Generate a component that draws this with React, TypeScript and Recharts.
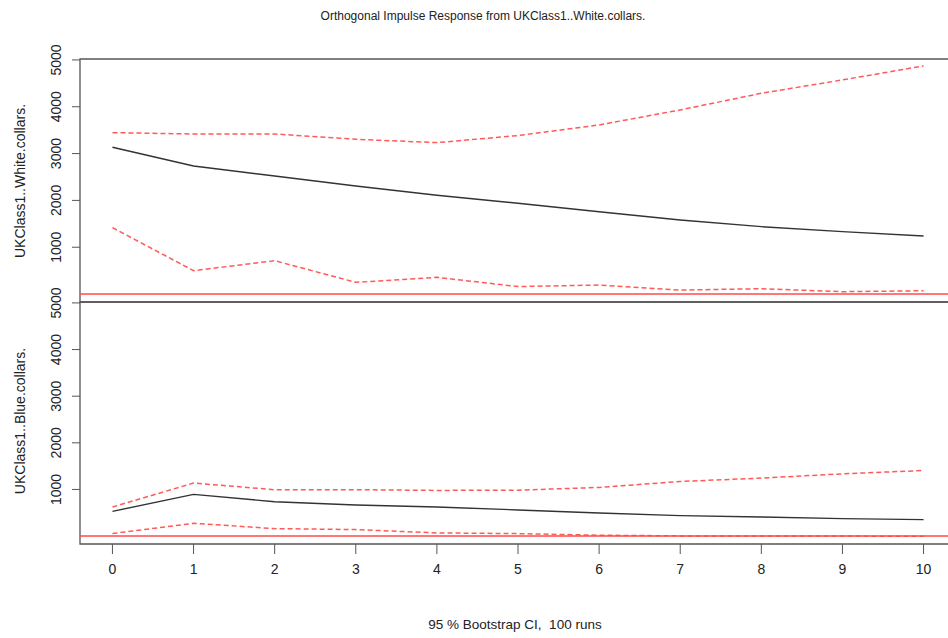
import { Line, LineChart, ReferenceArea, ReferenceLine, XAxis, YAxis } from "recharts";

const steps = [0, 1, 2, 3, 4, 5, 6, 7, 8, 9, 10];
const whiteIrf = [3135, 2735, 2521, 2308, 2109, 1938, 1759, 1581, 1439, 1332, 1239];
const whiteUpper = [3447, 3419, 3419, 3305, 3234, 3385, 3611, 3932, 4288, 4573, 4872];
const whiteLower = [1418, 499, 712, 250, 357, 160, 192, 85, 114, 50, 71];
const blueIrf = [530, 894, 737, 666, 623, 560, 495, 438, 410, 374, 353];
const blueUpper = [623, 1137, 994, 994, 979, 985, 1043, 1171, 1243, 1335, 1406];
const blueLower = [53, 274, 160, 139, 68, 53, 18, 4, 2, 0, -4];

const yTicks = [1000, 2000, 3000, 4000, 5000];
const yDomain = [-170, 5020];
const xDomain = [-0.4, 10.4];

const whiteData = steps.map((step, i) => ({ step, irf: whiteIrf[i], upper: whiteUpper[i], lower: whiteLower[i] }));
const blueData = steps.map((step, i) => ({ step, irf: blueIrf[i], upper: blueUpper[i], lower: blueLower[i] }));

const font = "'Liberation Sans', Arial, sans-serif";
const ink = "#222";
const boxColor = "#555";
const ciColor = "#ff5a5a";
const zeroColor = "#ff4a4a";

function RotatedTick(props: any) {
  const { x, y, payload } = props;
  return (
    <text
      x={x}
      y={y}
      transform={`rotate(-90 ${x} ${y})`}
      textAnchor="middle"
      fontFamily={font}
      fontSize={14}
      fill={ink}
    >
      {payload.value}
    </text>
  );
}

function Panel({ data, margin, showX }: { data: typeof whiteData; margin: any; showX: boolean }) {
  return (
    <LineChart width={960} height={638} data={data} margin={margin}>
      <XAxis
        dataKey="step"
        type="number"
        domain={xDomain}
        allowDataOverflow
        ticks={steps}
        hide={!showX}
        height={40}
        axisLine={false}
        tickLine={{ stroke: boxColor }}
        tickSize={10}
        tickMargin={10}
        tick={{ fontFamily: font, fontSize: 14, fill: ink }}
      />
      <YAxis
        type="number"
        domain={yDomain}
        allowDataOverflow
        ticks={yTicks}
        width={80}
        axisLine={false}
        tickLine={{ stroke: boxColor }}
        tickSize={8}
        tickMargin={11}
        tick={<RotatedTick />}
      />
      <ReferenceArea x1={xDomain[0]} x2={xDomain[1]} y1={yDomain[0]} y2={yDomain[1]} fill="none" stroke={boxColor} strokeWidth={1.3} />
      <Line dataKey="irf" stroke="#333" strokeWidth={1.4} dot={false} isAnimationActive={false} />
      <Line dataKey="upper" stroke={ciColor} strokeWidth={1.5} strokeDasharray="5 3" dot={false} isAnimationActive={false} />
      <Line dataKey="lower" stroke={ciColor} strokeWidth={1.5} strokeDasharray="5 3" dot={false} isAnimationActive={false} />
      <ReferenceLine y={0} stroke={zeroColor} strokeWidth={1.5} />
    </LineChart>
  );
}

export default function App() {
  const layer = { position: "absolute" as const, top: 0, left: 0 };
  return (
    <div style={{ position: "fixed", top: 0, left: 0, width: 948, height: 638, overflow: "hidden", background: "#fff", fontFamily: font, color: ink }}>
      <div style={layer}>
        <Panel data={whiteData} margin={{ top: 59, right: 4, bottom: 336, left: 0 }} showX={false} />
      </div>
      <div style={layer}>
        <Panel data={blueData} margin={{ top: 302, right: 4, bottom: 54, left: 0 }} showX />
      </div>
      <div style={{ position: "absolute", top: 9, left: 0, width: 966, textAlign: "center", fontSize: 12 }}>
        Orthogonal Impulse Response from UKClass1..White.collars.
      </div>
      <div style={{ position: "absolute", top: 617, left: 80, width: 870, textAlign: "center", fontSize: 13.5, whiteSpace: "pre" }}>
        {"95 % Bootstrap CI,  100 runs"}
      </div>
      <div style={{ position: "absolute", left: 20, top: 181, width: 0, height: 0 }}>
        <div style={{ position: "absolute", transform: "translate(-50%, -50%) rotate(-90deg)", whiteSpace: "nowrap", fontSize: 14 }}>
          UKClass1..White.collars.
        </div>
      </div>
      <div style={{ position: "absolute", left: 20, top: 421, width: 0, height: 0 }}>
        <div style={{ position: "absolute", transform: "translate(-50%, -50%) rotate(-90deg)", whiteSpace: "nowrap", fontSize: 14 }}>
          UKClass1..Blue.collars.
        </div>
      </div>
    </div>
  );
}
